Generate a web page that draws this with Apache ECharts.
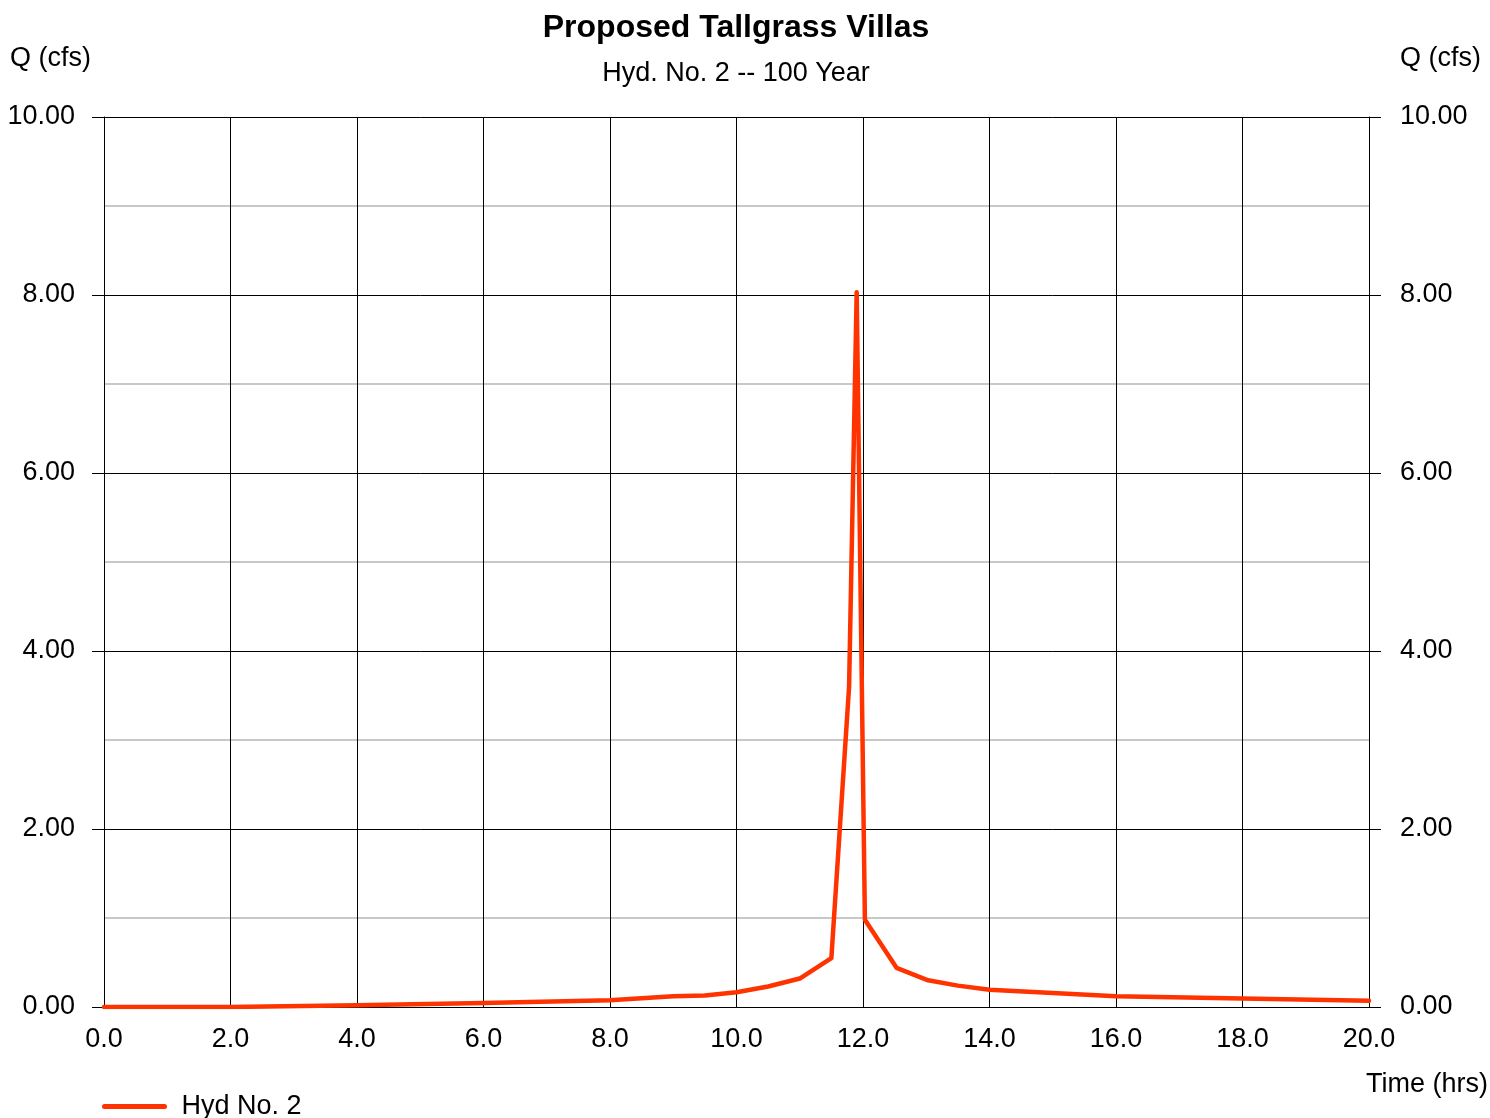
<!DOCTYPE html>
<html>
<head>
<meta charset="utf-8">
<script src="https://cdn.jsdelivr.net/npm/echarts@6/dist/echarts.min.js"></script>
<style>
html,body{margin:0;padding:0;background:#fff;}
#chart{width:1490px;height:1118px;}
</style>
</head>
<body>
<div id="chart"></div>
<script>
const hours = [0.0, 2.0, 4.0, 6.0, 8.0, 9.0, 9.5, 10.0, 10.5, 11.0, 11.5, 11.78, 11.9, 12.03, 12.53, 13.03, 13.5, 14.0, 16.0, 18.0, 20.0];
const flows = [0.0, 0.0, 0.02, 0.045, 0.075, 0.12, 0.13, 0.165, 0.23, 0.32, 0.55, 3.6, 8.03, 0.98, 0.44, 0.30, 0.24, 0.195, 0.12, 0.095, 0.07];
const seriesName = 'Hyd No. 2';
const chartTitle = 'Proposed Tallgrass Villas';
const chartSubtitle = 'Hyd. No. 2 -- 100 Year';
const yLabel = 'Q (cfs)';
const xLabel = 'Time (hrs)';

const font = 'Liberation Sans, Arial, sans-serif';
const points = hours.map((h, i) => [h, flows[i]]);

const chart = echarts.init(document.getElementById('chart'), null, {renderer: 'canvas'});
const yAxisCommon = {
  type: 'value', min: 0, max: 10, interval: 2,
  axisLine: {show: true, lineStyle: {color: '#000', width: 1}},
  axisTick: {show: true, length: 12, lineStyle: {color: '#000', width: 1}},
  minorTick: {show: false, splitNumber: 2},
  axisLabel: {color: '#000', fontFamily: font, fontSize: 27,
    formatter: v => v.toFixed(2)}
};
chart.setOption({
  animation: false,
  backgroundColor: '#fff',
  title: [
    {text: chartTitle, left: 736, top: 12, textAlign: 'center', padding: 0,
      textStyle: {fontFamily: font, fontSize: 32, fontWeight: 'bold', color: '#000'}},
    {text: chartSubtitle, left: 736, top: 60, textAlign: 'center', padding: 0,
      textStyle: {fontFamily: font, fontSize: 27, fontWeight: 'normal', color: '#000'}},
    {text: yLabel, left: 10, top: 45, padding: 0,
      textStyle: {fontFamily: font, fontSize: 27, fontWeight: 'normal', color: '#000'}},
    {text: yLabel, left: 1400, top: 45, padding: 0,
      textStyle: {fontFamily: font, fontSize: 27, fontWeight: 'normal', color: '#000'}},
    {text: xLabel, right: 2, top: 1071, padding: 0,
      textStyle: {fontFamily: font, fontSize: 27, fontWeight: 'normal', color: '#000'}}
  ],
  legend: {
    show: true, left: 102, top: 1093, padding: 0,
    icon: 'path://M2,0 L62,0 A2.5,2.5 0 0 1 62,5 L2,5 A2.5,2.5 0 0 1 2,0 Z',
    itemWidth: 66, itemHeight: 5, itemGap: 10,
    textStyle: {fontFamily: font, fontSize: 27, color: '#000', padding: [2, 0, 0, 9]},
    data: [seriesName]
  },
  grid: {left: 104, right: 121, top: 117, bottom: 111, containLabel: false, outerBoundsMode: 'none'},
  xAxis: {
    type: 'value', min: 0, max: 20, interval: 2,
    axisLine: {show: true, onZero: false, lineStyle: {color: '#000', width: 1}},
    axisTick: {show: false},
    axisLabel: {color: '#000', fontFamily: font, fontSize: 27, margin: 19,
      formatter: v => v.toFixed(1)},
    splitLine: {show: true, lineStyle: {color: '#000', width: 1}}
  },
  yAxis: [
    Object.assign({}, yAxisCommon, {
      position: 'left',
      axisLabel: Object.assign({}, yAxisCommon.axisLabel, {margin: 29, padding: [6, 0, 0, 0]}),
      splitLine: {show: true, lineStyle: {color: '#000', width: 1}},
      minorSplitLine: {show: true, lineStyle: {color: '#c8c8c8', width: 2}}
    }),
    Object.assign({}, yAxisCommon, {
      position: 'right',
      axisLabel: Object.assign({}, yAxisCommon.axisLabel, {margin: 31, padding: [6, 0, 0, 0]}),
      splitLine: {show: false},
      minorSplitLine: {show: false}
    })
  ],
  series: [{
    name: seriesName,
    type: 'line',
    data: points,
    yAxisIndex: 0,
    symbol: 'none',
    smooth: false,
    lineStyle: {color: '#ff3300', width: 4.5, cap: 'round', join: 'round'},
    itemStyle: {color: '#ff3300'},
    z: 5
  }]
});
</script>
</body>
</html>
